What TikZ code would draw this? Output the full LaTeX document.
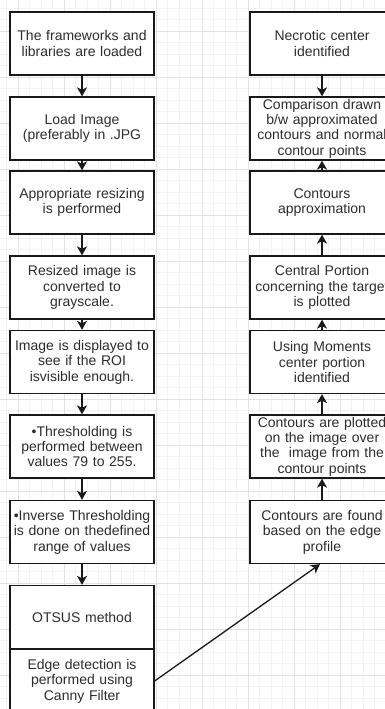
\documentclass[tikz,border=0pt]{standalone}
\usepackage{fontspec}
\setmainfont{Liberation Sans}
\usetikzlibrary{arrows.meta}
\definecolor{grid_minor}{RGB}{243, 243, 243}
\definecolor{grid_major}{RGB}{226, 226, 226}
\definecolor{box_text}{RGB}{45, 45, 45}
\tikzstyle{box}=[rectangle,draw=black!90,fill=white,text=box_text,
  line width=1.3pt,align=center,text width=142pt,inner sep=0pt,
  minimum width=144pt,minimum height=63pt,font=\fontsize{14}{15.4}\selectfont]
\tikzstyle{arrow}=[line width=1.3pt,draw=black!90,
  -{Stealth[length=9pt,width=10pt,inset=2.5pt]}]
\tikzstyle{none}=[]

\begin{document}
\begin{tikzpicture}[x=1pt,y=-1pt]
            \useasboundingbox (0,0) rectangle (385,709);
            \clip (0,0) rectangle (385,709);
            \fill [white] (0,0) rectangle (385,709);
            % grid
            \foreach \i in {0,...,33}
                \draw [grid_minor,line width=0.8pt] (6.5+11.5*\i,0) -- (6.5+11.5*\i,709);
            \foreach \j in {0,...,61}
                \draw [grid_minor,line width=0.8pt] (0,8+11.5*\j) -- (385,8+11.5*\j);
            \foreach \i in {0,...,8}
                \draw [grid_major,line width=0.8pt] (18+46*\i,0) -- (18+46*\i,709);
            \foreach \j in {0,...,15}
                \draw [grid_major,line width=0.8pt] (0,31+46*\j) -- (385,31+46*\j);
            % left column
            \node [style=box] (0) at (82, 43.5) {The frameworks and\\libraries are loaded};
            \node [style=box] (1) at (82, 128.5) {Load Image\\(preferably in .JPG};
            \node [style=box] (2) at (82, 202.5) {Appropriate resizing\\is performed};
            \node [style=box] (3) at (82, 287.5) {Resized image is\\converted to\\grayscale.};
            \node [style=box] (4) at (82, 362) {Image is displayed to\\see if the ROI\\isvisible enough.};
            \node [style=box] (5) at (82, 446.5) {•Thresholding is\\performed between\\values 79 to 255.};
            \node [style=box] (6) at (82, 532) {•Inverse Thresholding\\is done on thedefined\\range of values};
            \node [style=box] (7) at (82, 617) {OTSUS method};
            \node [style=box] (8) at (82, 681) {Edge detection is\\performed using\\Canny Filter};
            % right column
            \node [style=box] (9) at (322, 43.5) {Necrotic center\\identified};
            \node [style=box] (10) at (322, 128.5) {Comparison drawn\\b/w approximated\\contours and normal\\contour points};
            \node [style=box] (11) at (322, 202.5) {Contours\\approximation};
            \node [style=box] (12) at (322, 287.5) {Central Portion\\concerning the target\\is plotted};
            \node [style=box] (13) at (322, 362) {Using Moments\\center portion\\identified};
            \node [style=box] (14) at (322, 446.5) {Contours are plotted\\on the image over\\the\ \ image from the\\contour points};
            \node [style=box] (15) at (322, 532) {Contours are found\\based on the edge\\profile};
            % arrows
            \draw [style=arrow] (0) to (1);
            \draw [style=arrow] (1) to (2);
            \draw [style=arrow] (2) to (3);
            \draw [style=arrow] (3) to (4);
            \draw [style=arrow] (4) to (5);
            \draw [style=arrow] (5) to (6);
            \draw [style=arrow] (6) to (7);
            \draw [style=arrow] (9) to (10);
            \draw [style=arrow] (11) to (10);
            \draw [style=arrow] (12) to (11);
            \draw [style=arrow] (13) to (12);
            \draw [style=arrow] (14) to (13);
            \draw [style=arrow] (15) to (14);
            \draw [style=arrow] (8.east) to ([xshift=-2pt]15.south);
    \end{tikzpicture}
\end{document}
